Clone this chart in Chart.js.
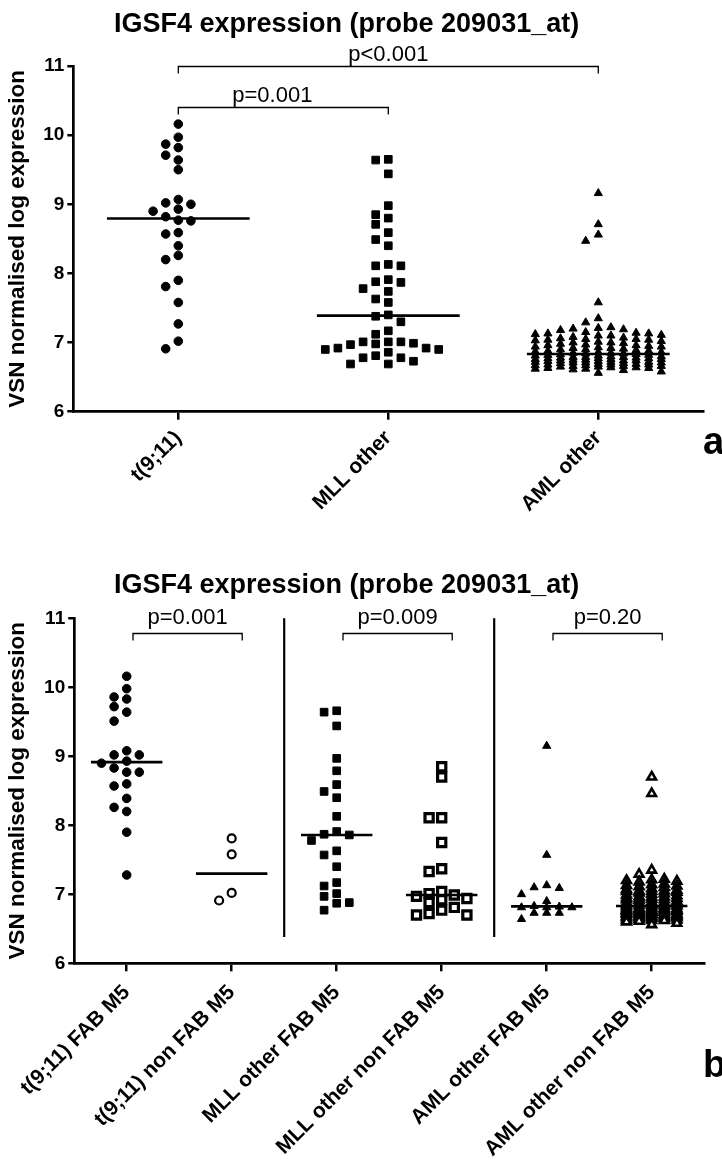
<!DOCTYPE html>
<html><head><meta charset="utf-8">
<script src="https://cdn.jsdelivr.net/npm/chart.js@4.4.1/dist/chart.umd.min.js"></script>
<style>
html,body{margin:0;padding:0;background:#fff;}
body{width:722px;height:1160px;overflow:hidden;position:relative;font-family:'Liberation Sans',Arial,Helvetica,sans-serif;}
.box{position:absolute;left:0;width:722px;}
.tag{position:absolute;font-weight:bold;font-size:38px;line-height:1;color:#000;}
</style></head><body>
<div class="box" style="top:0;height:530px"><canvas id="chartA"></canvas></div>
<div class="box" style="top:530px;height:630px"><canvas id="chartB"></canvas></div>
<div class="tag" style="left:703px;top:422px">a</div>
<div class="tag" style="left:703px;top:1045px">b</div>
<script>
// ---------- DATA ----------
const chartTitle = 'IGSF4 expression (probe 209031_at)';
const yAxisTitle = 'VSN normalised log expression';
const yTicks = [6, 7, 8, 9, 10, 11];

// Panel a
const categoriesA = ['t(9;11)', 'MLL other', 'AML other'];
const t911 = [10.16, 9.97, 9.87, 9.82, 9.71, 9.64, 9.50, 9.07, 9.02, 9.00, 8.93, 8.90, 8.82, 8.77, 8.76,
  8.59, 8.57, 8.40, 8.26, 8.20, 7.90, 7.81, 7.58, 7.27, 7.02, 6.91];
const mllOther = [9.65, 9.64, 9.44, 8.98, 8.85, 8.80, 8.71, 8.59, 8.49, 8.40, 8.13, 8.11, 8.11, 7.91, 7.88,
  7.87, 7.78, 7.74, 7.63, 7.58, 7.40, 7.38, 7.30, 7.17, 7.12, 7.01, 7.01, 7.01, 6.99, 6.98,
  6.97, 6.92, 6.92, 6.90, 6.90, 6.86, 6.81, 6.78, 6.78, 6.73, 6.69, 6.69];
const amlOther = [9.16, 8.71, 8.56, 8.47, 7.58, 7.35, 7.29,
  7.22, 7.21, 7.20, 7.19, 7.18,
  7.15, 7.14, 7.13, 7.13, 7.12, 7.11, 7.10, 7.10,
  7.08, 7.07, 7.06, 7.05, 7.05, 7.04, 7.04, 7.03, 7.02, 7.01, 7.00, 7.00,
  6.99, 6.98, 6.97, 6.96, 6.96, 6.95, 6.94, 6.94, 6.93, 6.92, 6.92, 6.91, 6.90, 6.90,
  6.89, 6.88, 6.88, 6.87, 6.86, 6.86, 6.85, 6.85, 6.84, 6.84, 6.83, 6.83, 6.82, 6.82, 6.81, 6.81, 6.80, 6.80,
  6.79, 6.79, 6.79, 6.78, 6.78, 6.77, 6.77, 6.77, 6.76, 6.76, 6.76, 6.75, 6.75, 6.74, 6.74, 6.74,
  6.73, 6.73, 6.72, 6.72, 6.72, 6.71, 6.71, 6.71, 6.70, 6.70,
  6.69, 6.69, 6.68, 6.68, 6.68, 6.67, 6.67, 6.66, 6.66, 6.66, 6.65, 6.65, 6.64, 6.64, 6.63, 6.63,
  6.62, 6.62, 6.61, 6.60, 6.58, 6.56];
const pLabelsA = ['p<0.001', 'p=0.001'];
const pPairsA = [[0, 2], [0, 1]];
const pLevelsA = [11.0, 10.41];

// Panel b
const categoriesB = ['t(9;11) FAB M5', 't(9;11) non FAB M5', 'MLL other FAB M5',
  'MLL other non FAB M5', 'AML other FAB M5', 'AML other non FAB M5'];
const t911Fab = [10.16, 9.98, 9.86, 9.83, 9.72, 9.64, 9.51, 9.08, 9.02, 9.02, 8.93, 8.90, 8.83, 8.77, 8.77,
  8.60, 8.57, 8.39, 8.26, 8.20, 7.90, 7.28];
const t911NonFab = [7.81, 7.58, 7.02, 6.91];
const mllFab = [9.66, 9.64, 9.44, 8.97, 8.79, 8.59, 8.49, 8.40, 8.13, 7.91, 7.87, 7.86, 7.78, 7.63, 7.57,
  7.40, 7.17, 7.12, 7.01, 6.97, 6.88, 6.87, 6.77];
const mllNonFab = [8.85, 8.70, 8.11, 8.11, 7.75, 7.37, 7.33, 7.04, 7.01, 6.99, 6.97, 6.94, 6.92, 6.88,
  6.81, 6.77, 6.72, 6.70, 6.70];
const amlFab = [9.15, 7.57, 7.13, 7.10, 7.09, 7.00, 6.90, 6.83, 6.82, 6.81, 6.81, 6.81, 6.73, 6.73, 6.73, 6.64];
const amlNonFab = [8.70, 8.46, 7.35, 7.29,
  7.22, 7.21, 7.20, 7.19, 7.18,
  7.15, 7.14, 7.13, 7.12, 7.11, 7.10,
  7.08, 7.07, 7.06, 7.05, 7.05, 7.04, 7.04, 7.03, 7.02, 7.01, 7.00,
  6.99, 6.98, 6.97, 6.96, 6.96, 6.95, 6.94, 6.94, 6.93, 6.92, 6.92, 6.91, 6.90,
  6.89, 6.88, 6.88, 6.87, 6.86, 6.86, 6.85, 6.85, 6.84, 6.84, 6.83, 6.83, 6.82, 6.81, 6.80, 6.80,
  6.79, 6.79, 6.79, 6.78, 6.78, 6.77, 6.77, 6.77, 6.76, 6.76, 6.76, 6.75, 6.75, 6.74, 6.74, 6.74,
  6.73, 6.72, 6.72, 6.72, 6.71, 6.71, 6.71, 6.70, 6.70,
  6.69, 6.69, 6.68, 6.68, 6.68, 6.67, 6.67, 6.66, 6.66, 6.66, 6.65, 6.65, 6.64, 6.63, 6.63,
  6.62, 6.62, 6.61, 6.60, 6.58, 6.56];
const pLabelsB = ['p=0.001', 'p=0.009', 'p=0.20'];
const pPairsB = [[0, 1], [2, 3], [4, 5]];
const pLevelsB = [10.79, 10.79, 10.79];
const separatorsB = [1.5, 3.5];

// ---------- STYLE / LAYOUT ----------
const FONT = "'Liberation Sans', Arial, Helvetica, sans-serif";
const STEP_PX = 12.6, MIN_DY = 9.5, MED_HALF = 0.34;

const filledCircle = { pointStyle: 'circle', pointRadius: 4.3, backgroundColor: '#000', borderColor: '#000', borderWidth: 1 };
const openCircle = { pointStyle: 'circle', pointRadius: 4, backgroundColor: '#fff', borderColor: '#000', borderWidth: 2.2 };
const filledSquare = { pointStyle: 'rect', pointRadius: 5.4, backgroundColor: '#000', borderColor: '#000', borderWidth: 1 };
const openSquare = { pointStyle: 'rect', pointRadius: 5.8, backgroundColor: '#fff', borderColor: '#000', borderWidth: 3.2 };
const filledTri = { pointStyle: 'triangle', pointRadius: 4.7, backgroundColor: '#000', borderColor: '#000', borderWidth: 1 };
const openTri = { pointStyle: 'triangle', pointRadius: 5, backgroundColor: '#fff', borderColor: '#000', borderWidth: 2.6 };

function median(a) {
  const s = [...a].sort((p, q) => p - q), n = s.length;
  return n % 2 ? s[(n - 1) / 2] : (s[n / 2 - 1] + s[n / 2]) / 2;
}

function swarmOffsets(values, toPx, maxK) {
  const order = values.map((v, i) => i).sort((a, b) => values[b] - values[a]);
  const cand = [0];
  for (let j = 1; j <= maxK; j++) cand.push(-j, j);
  const cols = {};
  cand.forEach(k => cols[k] = []);
  const ks = new Array(values.length);
  for (const i of order) {
    const py = toPx(values[i]);
    let best = 0, bestD = -1;
    for (const k of cand) {
      let d = Infinity;
      for (const q of cols[k]) d = Math.min(d, Math.abs(q - py));
      if (d >= MIN_DY) { best = k; bestD = Infinity; break; }
      if (d > bestD + 0.01) { bestD = d; best = k; }
    }
    cols[best].push(py);
    ks[i] = best;
  }
  return ks;
}

const annotPlugin = {
  id: 'annot',
  afterDraw(chart, args, o) {
    const { ctx } = chart, xs = chart.scales.x, ys = chart.scales.y;
    ctx.save();
    ctx.fillStyle = '#000';
    ctx.font = 'bold 27px ' + FONT;
    ctx.textAlign = 'left';
    ctx.textBaseline = 'alphabetic';
    ctx.fillText(o.title, o.titleX, o.titleBase);
    ctx.textAlign = 'center';
    ctx.strokeStyle = '#000';
    (o.separators || []).forEach(s => {
      const px = xs.getPixelForValue(s);
      ctx.lineWidth = 2.2;
      ctx.beginPath();
      ctx.moveTo(px, ys.getPixelForValue(11));
      ctx.lineTo(px, ys.getPixelForValue(o.sepBottom));
      ctx.stroke();
    });
    ctx.lineWidth = 1.3;
    ctx.font = '22px ' + FONT;
    o.pairs.forEach((pr, i) => {
      const x1 = xs.getPixelForValue(pr[0] + o.padL), x2 = xs.getPixelForValue(pr[1] + o.padR);
      const yy = Math.round(ys.getPixelForValue(o.levels[i])) + 0.5;
      ctx.beginPath();
      ctx.moveTo(x1, yy + 7); ctx.lineTo(x1, yy); ctx.lineTo(x2, yy); ctx.lineTo(x2, yy + 7);
      ctx.stroke();
      ctx.fillText(o.labels[i], (x1 + x2) / 2 + (o.textShift ? o.textShift[i] : 0), yy - o.textGap);
    });
    ctx.restore();
  }
};

function makeChart(id, cats, groups, styles, lay, annot, maxK) {
  const datasets = groups.map((vals, gi) => Object.assign({
    label: cats[gi], data: vals.map(v => ({ x: gi, y: v })), order: 1
  }, styles[gi]));
  groups.forEach((vals, gi) => {
    const m = median(vals);
    datasets.push({
      label: cats[gi] + ' median', data: [{ x: gi - MED_HALF, y: m }, { x: gi + MED_HALF, y: m }],
      showLine: true, pointRadius: 0, borderColor: '#000', borderWidth: 2.6, fill: false, order: 0
    });
  });
  const chart = new Chart(document.getElementById(id), {
    type: 'scatter',
    data: { datasets },
    options: {
      responsive: true, maintainAspectRatio: false, animation: false, devicePixelRatio: 1, events: [],
      layout: { padding: lay.padding },
      plugins: { legend: { display: false }, tooltip: { enabled: false }, annot },
      scales: {
        x: {
          type: 'linear', min: -0.5, max: cats.length - 0.5,
          afterBuildTicks: s => { s.ticks = cats.map((c, i) => ({ value: i })); },
          afterFit: s => { s.height = lay.xHeight; },
          ticks: { callback: v => cats[Math.round(v)], autoSkip: false, minRotation: 45, maxRotation: 45,
            font: { family: FONT, size: lay.xFont, weight: 'bold' }, color: '#000', padding: lay.xPad },
          grid: { display: true, drawOnChartArea: false, drawTicks: true, tickLength: 8, color: '#000', lineWidth: 2.5 },
          border: { display: true, color: '#000', width: 2.7 }
        },
        y: {
          type: 'linear', min: 6, max: 11,
          afterBuildTicks: s => { s.ticks = yTicks.map(v => ({ value: v })); },
          afterFit: s => { s.width = lay.yWidth; },
          ticks: { font: { family: FONT, size: 19, weight: 'bold' }, color: '#000', padding: 3 },
          grid: { display: true, drawOnChartArea: false, drawTicks: true, tickLength: 6, color: '#000', lineWidth: 2.5 },
          border: { display: true, color: '#000', width: 2.7 },
          title: { display: true, text: yAxisTitle, color: '#000',
            font: { family: FONT, size: 22.5, weight: 'bold' }, padding: { top: 4, bottom: 0 } }
        }
      }
    },
    plugins: [annotPlugin]
  });
  const xs = chart.scales.x, ys = chart.scales.y;
  const unit = xs.getPixelForValue(1) - xs.getPixelForValue(0);
  groups.forEach((vals, gi) => {
    const ks = swarmOffsets(vals, v => ys.getPixelForValue(v), maxK);
    chart.data.datasets[gi].data = vals.map((v, i) => ({ x: gi + ks[i] * STEP_PX / unit, y: v }));
  });
  chart.update('none');
  return chart;
}

makeChart('chartA', categoriesA, [t911, mllOther, amlOther], [filledCircle, filledSquare, filledTri],
  { padding: { top: 66, right: 18.7, left: 0, bottom: 0 }, yWidth: 73.3, xHeight: 118.3, xFont: 21, xPad: 6 },
  { title: chartTitle, titleX: 114, titleBase: 32, pairs: pPairsA, levels: pLevelsA, labels: pLabelsA,
    padL: 0, padR: 0, textGap: 6, textShift: [0, -11] },
  5);

makeChart('chartB', categoriesB, [t911Fab, t911NonFab, mllFab, mllNonFab, amlFab, amlNonFab],
  [filledCircle, openCircle, filledSquare, openSquare, filledTri, openTri],
  { padding: { top: 88.3, right: 17.8, left: 0, bottom: 0 }, yWidth: 74.2, xHeight: 196.7, xFont: 21, xPad: 9 },
  { title: chartTitle, titleX: 114, titleBase: 63, pairs: pPairsB, levels: pLevelsB, labels: pLabelsB,
    padL: 0.06, padR: 0.1, separators: separatorsB, sepBottom: 6.38, textGap: 10 },
  2);
</script>
</body></html>
